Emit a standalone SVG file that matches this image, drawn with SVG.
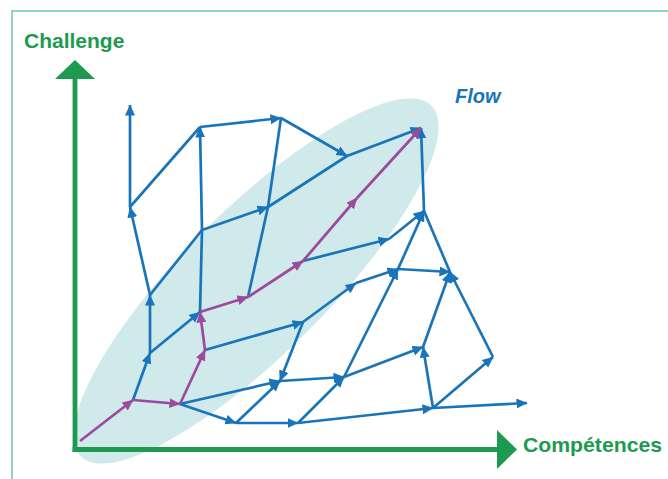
<svg xmlns="http://www.w3.org/2000/svg" width="668" height="479" viewBox="0 0 668 479">
<style>
.lbl{font-family:"Liberation Sans",Arial,sans-serif;font-weight:bold;fill:#1e9a50}
.b{stroke:#1a74ba;stroke-width:2.7;fill:none;marker-end:url(#ab)}
.bn{stroke:#1a74ba;stroke-width:2.7;fill:none}
.p{stroke:#9c4a9e;stroke-width:2.7;fill:none;marker-end:url(#ap)}
</style>
<defs>
<marker id="ab" markerUnits="userSpaceOnUse" markerWidth="12" markerHeight="11" refX="10.5" refY="5" orient="auto"><path d="M0,0 L11,5 L0,10 z" fill="#1a74ba"/></marker>
<marker id="ap" markerUnits="userSpaceOnUse" markerWidth="12" markerHeight="11" refX="10.5" refY="5" orient="auto"><path d="M0,0 L11,5 L0,10 z" fill="#9c4a9e"/></marker>
</defs>
<rect width="668" height="479" fill="#ffffff"/>
<rect x="12" y="11" width="700" height="520" fill="none" stroke="#45bd98" stroke-width="1.2"/>
<g id="flow-zone">
<ellipse cx="256" cy="281" rx="248" ry="72" transform="rotate(-45 256 281)" fill="#d0e9eb"/>
<text x="455" y="103" style="font-family:'Liberation Sans',Arial,sans-serif;font-weight:bold;font-style:italic;font-size:20px;fill:#1a74ba">Flow</text>
</g>
<g id="axis-y">
<line x1="75" y1="452" x2="75" y2="78" stroke="#1e9a50" stroke-width="4.8"/>
<polygon points="55,79 95,79 75,60" fill="#1e9a50"/>
<text class="lbl" x="24" y="48" font-size="21">Challenge</text>
</g>
<g id="axis-x">
<line x1="72.6" y1="449.5" x2="499" y2="449.5" stroke="#1e9a50" stroke-width="4.8"/>
<polygon points="497,430 497,469 517,449.5" fill="#1e9a50"/>
<text class="lbl" x="523" y="452" font-size="21" textLength="139" lengthAdjust="spacingAndGlyphs">Compétences</text>
</g>
<g id="connectors">
<line class="b" x1="130" y1="207" x2="130" y2="105"/>
<line class="bn" x1="130" y1="207" x2="200" y2="127"/>
<line class="b" x1="202" y1="230" x2="200" y2="127"/>
<line class="b" x1="200" y1="127" x2="281" y2="118"/>
<line class="b" x1="281" y1="118" x2="347" y2="156"/>
<line class="bn" x1="268" y1="207" x2="281" y2="118"/>
<line class="b" x1="202" y1="230" x2="268" y2="207"/>
<line class="bn" x1="268" y1="207" x2="347" y2="156"/>
<line class="b" x1="347" y1="156" x2="421" y2="128"/>
<line class="b" x1="150" y1="295" x2="130" y2="207"/>
<line class="bn" x1="150" y1="295" x2="202" y2="230"/>
<line class="bn" x1="200" y1="312" x2="202" y2="230"/>
<line class="b" x1="150" y1="353" x2="150" y2="295"/>
<line class="b" x1="150" y1="353" x2="200" y2="312"/>
<line class="b" x1="133" y1="400" x2="150" y2="353"/>
<line class="bn" x1="248" y1="297" x2="268" y2="207"/>
<line class="b" x1="205" y1="350" x2="303" y2="322"/>
<line class="b" x1="303" y1="322" x2="280" y2="381"/>
<line class="b" x1="180" y1="404" x2="280" y2="381"/>
<line class="b" x1="180" y1="404" x2="236" y2="423"/>
<line class="b" x1="236" y1="423" x2="298" y2="423"/>
<line class="b" x1="236" y1="423" x2="280" y2="381"/>
<line class="b" x1="280" y1="381" x2="344" y2="377"/>
<line class="b" x1="298" y1="423" x2="344" y2="377"/>
<line class="b" x1="298" y1="423" x2="433" y2="408"/>
<line class="b" x1="344" y1="377" x2="423" y2="347"/>
<line class="b" x1="344" y1="377" x2="398" y2="269"/>
<line class="b" x1="303" y1="322" x2="356" y2="283"/>
<line class="b" x1="356" y1="283" x2="398" y2="269"/>
<line class="b" x1="398" y1="269" x2="450" y2="272"/>
<line class="b" x1="423" y1="347" x2="450" y2="272"/>
<line class="b" x1="433" y1="408" x2="423" y2="347"/>
<line class="b" x1="433" y1="408" x2="493" y2="357"/>
<line class="b" x1="493" y1="357" x2="450" y2="272"/>
<line class="b" x1="433" y1="408" x2="527" y2="403"/>
<line class="b" x1="303" y1="261" x2="389" y2="239"/>
<line class="b" x1="389" y1="239" x2="424" y2="211"/>
<line class="b" x1="398" y1="269" x2="424" y2="211"/>
<line class="bn" x1="424" y1="211" x2="450" y2="272"/>
<line class="b" x1="424" y1="211" x2="421" y2="128"/>
<line class="p" x1="80" y1="441" x2="133" y2="400"/>
<line class="p" x1="133" y1="400" x2="180" y2="404"/>
<line class="p" x1="180" y1="404" x2="205" y2="350"/>
<line class="p" x1="205" y1="350" x2="200" y2="312"/>
<line class="p" x1="200" y1="312" x2="248" y2="297"/>
<line class="p" x1="248" y1="297" x2="303" y2="261"/>
<line class="p" x1="303" y1="261" x2="357" y2="198"/>
<line class="p" x1="357" y1="198" x2="421" y2="128"/>
</g>
</svg>
